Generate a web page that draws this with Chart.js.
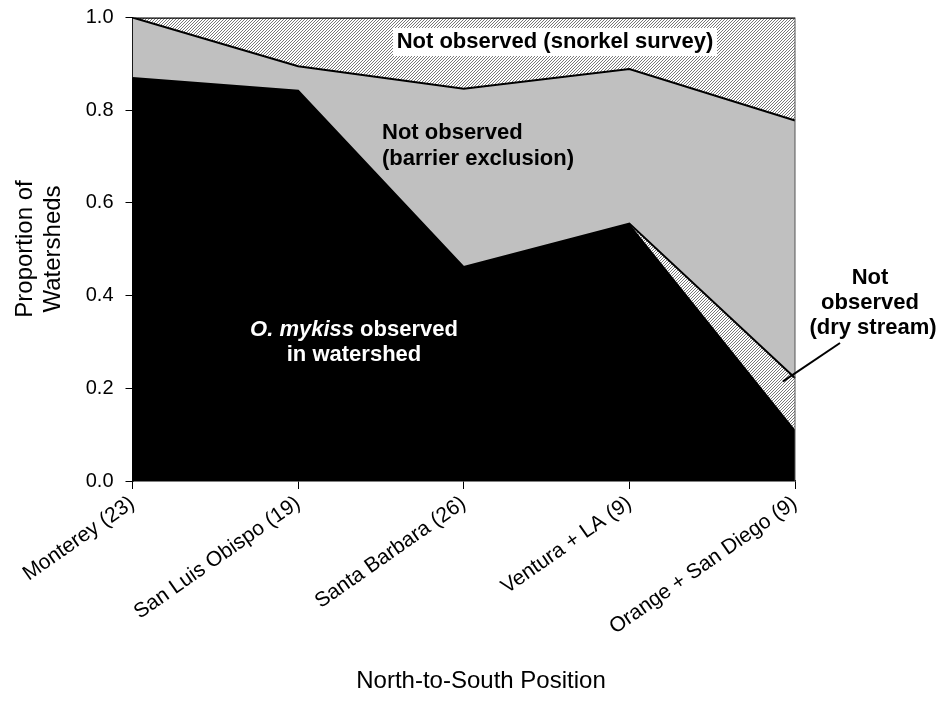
<!DOCTYPE html>
<html>
<head>
<meta charset="utf-8">
<script src="https://cdn.jsdelivr.net/npm/chart.js@4.4.1/dist/chart.umd.min.js"></script>
<style>
  body { margin: 0; background: #fff; }
</style>
</head>
<body>
<canvas id="myChart1" width="939" height="702"></canvas>
<script>
const ctx = document.getElementById('myChart1');

// watershed counts per region, north to south
const regions = ['Monterey (23)', 'San Luis Obispo (19)', 'Santa Barbara (26)', 'Ventura + LA (9)', 'Orange + San Diego (9)'];
const totals = [23, 19, 26, 9, 9];
const observedCounts = [20, 16, 12, 5, 1];
const dryCounts = [0, 0, 0, 0, 1];
const barrierCounts = [3, 1, 10, 3, 5];
const snorkelCounts = [0, 2, 4, 1, 2];
const yTicks = [0, 0.2, 0.4, 0.6, 0.8, 1.0];

const FONT = "'Liberation Sans', Arial, sans-serif";

function prop(counts) {
  return counts.map((c, i) => c / totals[i]);
}

// fine diagonal hatch like the excel fill, 3px period
function hatch() {
  const c = document.createElement('canvas');
  c.width = 3; c.height = 3;
  const g = c.getContext('2d');
  const img = g.createImageData(3, 3);
  for (let y = 0; y < 3; y++) {
    for (let x = 0; x < 3; x++) {
      const k = (y * 3 + x) * 4;
      const v = (x + y === 2) ? 120 : 255;
      img.data[k] = v; img.data[k + 1] = v; img.data[k + 2] = v; img.data[k + 3] = 255;
    }
  }
  g.putImageData(img, 0, 0);
  return g.createPattern(c, 'repeat');
}

const labelsPlugin = {
  id: 'labels',
  afterDatasetsDraw(chart) {
    const c = chart.ctx;
    const { left, right, top, bottom } = chart.chartArea;
    const xs = chart.scales.x, ys = chart.scales.y;
    c.save();

    // right frame edge
    c.strokeStyle = '#555';
    c.lineWidth = 1;
    c.beginPath();
    c.moveTo(right, top); c.lineTo(right, bottom);
    c.stroke();

    c.textAlign = 'center';
    c.textBaseline = 'middle';

    // snorkel label with white box
    c.fillStyle = '#fff';
    c.fillRect(393, 28, 324, 28);
    c.fillStyle = '#000';
    c.font = 'bold 22px ' + FONT;
    c.fillText('Not observed (snorkel survey)', 555, 42);

    // barrier label (left aligned)
    c.textAlign = 'left';
    c.fillText('Not observed', 382, 133);
    c.fillText('(barrier exclusion)', 382, 159);

    // observed label, white, mixed italic
    c.fillStyle = '#fff';
    const a = 'O. mykiss', b = ' observed';
    c.font = 'italic bold 22px ' + FONT;
    const wa = c.measureText(a).width;
    c.font = 'bold 22px ' + FONT;
    const wb = c.measureText(b).width;
    let x0 = 354 - (wa + wb) / 2;
    c.font = 'italic bold 22px ' + FONT;
    c.fillText(a, x0, 330);
    c.font = 'bold 22px ' + FONT;
    c.fillText(b, x0 + wa, 330);
    c.textAlign = 'center';
    c.fillText('in watershed', 354, 355);

    // dry stream label and leader
    c.fillStyle = '#000';
    c.fillText('Not', 870, 278);
    c.fillText('observed', 870, 303);
    c.fillText('(dry stream)', 873, 328);
    c.strokeStyle = '#000';
    c.lineWidth = 2;
    c.beginPath();
    c.moveTo(840, 343);
    c.lineTo(xs.getPixelForValue(4) - 12, ys.getPixelForValue(0.215));
    c.stroke();

    // axis titles
    c.font = '24px ' + FONT;
    c.fillText('North-to-South Position', 481, 681);
    c.save();
    c.translate(25, 249);
    c.rotate(-Math.PI / 2);
    c.fillText('Proportion of', 0, 0);
    c.restore();
    c.save();
    c.translate(53, 249);
    c.rotate(-Math.PI / 2);
    c.fillText('Watersheds', 0, 0);
    c.restore();

    c.restore();
  }
};

const pattern = hatch();

new Chart(ctx, {
  type: 'line',
  data: {
    labels: regions,
    datasets: [
      {
        label: 'Observed',
        data: prop(observedCounts),
        backgroundColor: '#000',
        borderColor: '#000',
        borderWidth: 0,
        fill: 'origin'
      },
      {
        label: 'Dry stream',
        data: prop(dryCounts),
        backgroundColor: pattern,
        borderColor: '#000',
        borderWidth: 2,
        fill: '-1'
      },
      {
        label: 'Barrier exclusion',
        data: prop(barrierCounts),
        backgroundColor: '#c0c0c0',
        borderColor: '#000',
        borderWidth: 2,
        fill: '-1'
      },
      {
        label: 'Snorkel survey',
        data: prop(snorkelCounts),
        backgroundColor: pattern,
        borderColor: '#000',
        borderWidth: 2.5,
        fill: '-1'
      }
    ]
  },
  options: {
    responsive: false,
    animation: false,
    devicePixelRatio: 1,
    elements: {
      point: { radius: 0 },
      line: { tension: 0 }
    },
    layout: {
      padding: { left: 60, right: 144, top: 17.5, bottom: 0 }
    },
    plugins: {
      legend: { display: false },
      tooltip: { enabled: false }
    },
    scales: {
      x: {
        stacked: true,
        offset: false,
        grid: { drawOnChartArea: false, tickLength: 8, color: '#000', tickColor: '#000' },
        border: { color: '#000', width: 1.5 },
        ticks: {
          color: '#000',
          font: { family: FONT, size: 21 },
          minRotation: 35,
          maxRotation: 35,
          autoSkip: false,
          padding: 2
        },
        afterFit: (s) => { s.height = 221; }
      },
      y: {
        stacked: true,
        min: 0,
        max: 1,
        grid: { drawOnChartArea: false, tickLength: 7, color: '#000', tickColor: '#000' },
        border: { color: '#000', width: 1.5 },
        afterBuildTicks: (axis) => { axis.ticks = yTicks.map(v => ({ value: v })); },
        ticks: {
          color: '#000',
          font: { family: FONT, size: 20 },
          padding: 12,
          callback: (v) => Number(v).toFixed(1)
        },
        afterFit: (s) => { s.width = 72.5; s.paddingTop = 0; s.paddingBottom = 0; }
      }
    }
  },
  plugins: [labelsPlugin]
});
</script>
</body>
</html>
